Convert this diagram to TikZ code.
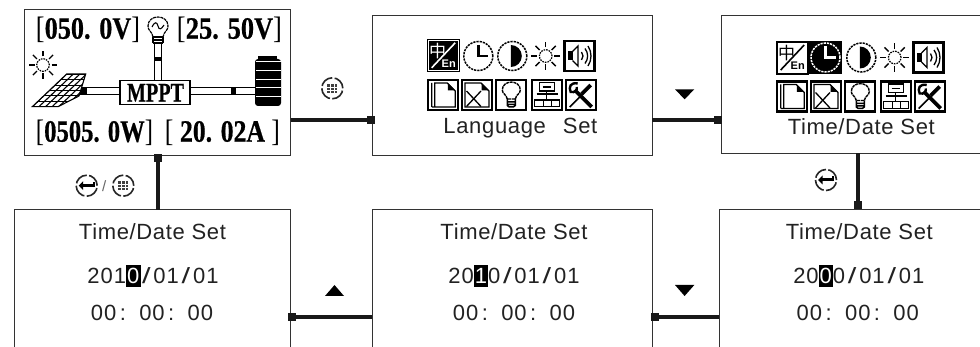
\documentclass[tikz,border=0pt]{standalone}
\usepackage{fontspec}
\usepackage{graphicx}
\usetikzlibrary{calc}
\setmainfont[LetterSpace=3]{Liberation Sans}
\newfontfamily\lcdf[BoldFeatures={FakeBold=.7}]{Liberation Serif}
\newfontfamily\cjkf{Noto Sans CJK SC}
\newfontfamily\plainf{Liberation Sans}
\definecolor{ink}{HTML}{222222}
\definecolor{edge}{HTML}{333333}
\newcommand{\lcdtxt}[4]{\resizebox{#1}{\height}{\lcdf\fontsize{31pt}{34pt}\selectfont\mdseries #2\bfseries #3\mdseries #4}}
\newcommand{\dg}[1]{\makebox[13.2pt]{#1}}
\newcommand{\sll}{\makebox[13.2pt]{\scalebox{1.4}[1]{/}}}
\newcommand{\hl}[1]{\makebox[13.2pt]{\makebox[0pt]{\color{black}\rule[-3.5pt]{14.6pt}{22pt}}\makebox[0pt]{\color{white}#1}}}
\newcommand{\clocktxt}{\dg{0}\dg{0}\makebox[22pt][l]{\hspace{3pt}:}\dg{0}\dg{0}\makebox[22pt][l]{\hspace{3pt}:}\dg{0}\dg{0}}
\tikzset{
  box/.style={draw=edge,line width=.9pt,inner sep=0pt,outer sep=0pt},
  openbox/.style={inner sep=0pt,outer sep=0pt},
  edgeline/.style={draw=edge,line width=.9pt},
  termsq/.style={fill=black!90,inner sep=0pt,outer sep=0pt,minimum size=8pt},
  conn/.style={draw=black!90,line width=3.6pt},
  lcdlabel/.style={font=\fontsize{22pt}{26pt}\selectfont,text=ink,inner sep=0pt,text height=16pt,text depth=0pt},
  shown/.style={inner sep=0pt,text=black},
  wire/.style={draw=black,line width=1.3pt,double=white,double distance=6pt},
  frame/.style={draw=black,line width=2.2pt},
  ring/.style={draw=black,line width=1.5pt,dash pattern=on 2.2pt off 1pt},
  thinl/.style={draw=black,line width=1.3pt},
  keyring/.style={draw=black!85,line width=1.6pt,dash pattern=on 14pt off 2.4pt},
}
\newcommand{\sunicon}{%
  \foreach \a in {0,45,...,315}{\draw[line width=1.4pt] (\a:8.5pt) -- (\a:14.3pt);}
  \draw[line width=1.2pt,dash pattern=on 1.6pt off 1pt] (0,0) circle[radius=6.3pt];}
\newcommand{\clockring}[2]{%
  \draw[ring,draw=#1] (0,0) circle[radius=14.5pt];
  \draw[draw=#2,line width=2.8pt] (0,-11) -- (0,0) -- (10,0);}
\newcommand{\contrasticon}{%
  \draw[ring] (0,0) circle[radius=14.5pt];
  \fill[black] (-1.5,-11) arc[start angle=90,end angle=-90,radius=11pt] -- cycle;}
\newcommand{\langicon}[3]{%
  \fill[#1] (0,0) rectangle (33,33);
  \draw[draw=#3,line width=1.1pt] (0.5,0.5) rectangle (32.5,32.5);
  \draw[draw=#2,line width=1.6pt] (5,28.5) -- (28.5,3.5);
  \node[shown,text=#2,font=\cjkf\fontsize{17pt}{17pt}\selectfont] (zh) at (11,12) {中};
  \node[shown,text=#2,font=\plainf\bfseries\fontsize{11pt}{11pt}\selectfont] (en) at (22,24.5) {En};}
\newcommand{\speakericon}{%
  \draw[frame] (1,1) rectangle (31,31);
  \fill (4.5,11.5) rectangle (9,20.5);
  \draw[thinl] (9,11.5) -- (14.5,6) -- (14.5,26) -- (9,20.5);
  \draw[thinl] (18,12) .. controls (20,14.5) and (20,17.5) .. (18,20);
  \draw[thinl] (21.5,8.5) .. controls (25,13) and (25,19) .. (21.5,23.5);
  \draw[thinl] (24.5,6) .. controls (28.5,12) and (28.5,20) .. (24.5,26);}
\newcommand{\docicon}{%
  \draw[frame] (1,1) rectangle (31,31);
  \draw[line width=1.3pt] (4.5,28) -- (4.5,4) (7.5,28) -- (7.5,4) -- (20,4) -- (28,12) -- (28,28) -- (4.5,28);
  \fill (20.5,4) -- (28,11.5) -- (20.5,11.5) -- cycle;}
\newcommand{\docxicon}{%
  \draw[frame] (1,1) rectangle (31,31);
  \draw[line width=1.3pt] (4,28) -- (4,4) -- (20,4) -- (28,12) -- (28,28) -- cycle;
  \fill (20.5,4) -- (28,11.5) -- (20.5,11.5) -- cycle;
  \draw[line width=1.3pt] (5.5,12) -- (20,27.5) (5.5,27.5) -- (20,12);}
\newcommand{\bulbicon}{%
  \draw[frame] (1,1) rectangle (31,31);
  \draw[line width=1.4pt,dash pattern=on 3pt off .7pt] (12,20) .. controls (11,15) and (7,15) .. (7,11) .. controls (7,0.5) and (25,0.5) .. (25,11) .. controls (25,15) and (21,15) .. (20,20) -- (12,20);
  \draw[line width=1.5pt] (12,20) -- (12,26.5) -- (14,28) -- (18,28) -- (20,26.5) -- (20,20) (12,23) -- (20,23) (12,25.5) -- (20,25.5);}
\newcommand{\neticon}{%
  \draw[frame] (1,1) rectangle (31,31);
  \draw[line width=1.4pt] (8.7,3.7) rectangle (24,12) (12,8) -- (20.5,8) (16,12) -- (16,21);
  \draw[line width=1.8pt] (6,15.3) -- (27,15.3);
  \draw[line width=1.3pt] (8,21) -- (25,21);
  \draw[line width=1.3pt] (3.7,21) rectangle (12.7,27.7) (12.7,21) rectangle (21,27.7) (21,21) rectangle (29,27.7);}
\newcommand{\toolicon}{%
  \draw[frame] (1,1) rectangle (31,31);
  \draw[line width=3.8pt] (10,11) -- (27,28);
  \draw[line width=1.6pt] (5,28) -- (18,15);
  \draw[line width=3.8pt] (17,15) -- (26,6);
  \draw[line width=2.4pt] (13,4.5) .. controls (6,3) and (3.5,8) .. (6,13) .. controls (10,14) and (13,11) .. (12,8);}
\newcommand{\iconset}[1]{%
  \ifnum#1=0
    \begin{scope}[shift={(426.7,39.3)}]\langicon{black}{white}{black}\draw[white,line width=.9pt] (1.5,1.5) rectangle (31.5,31.5);\end{scope}
    \begin{scope}[shift={(478.3,56)}]\clockring{black}{black}\end{scope}
  \else
    \begin{scope}[shift={(426.7,40)}]\langicon{white}{black}{black}\draw[black,line width=1.8pt] (1,1) rectangle (32,32);\end{scope}
    \fill[black] (459.5,39.5) rectangle (493,73);
    \begin{scope}[shift={(476.5,56)}]\fill[black] (0,0) circle[radius=14pt];\clockring{white}{white}\end{scope}
  \fi
  \begin{scope}[shift={(512.3,56)}]\contrasticon\end{scope}
  \begin{scope}[shift={(545.7,56)}]\sunicon\end{scope}
  \begin{scope}[shift={(563.5,40)}]\speakericon\end{scope}
  \begin{scope}[shift={(427.3,79)}]\docicon\end{scope}
  \begin{scope}[shift={(461,79)}]\docxicon\end{scope}
  \begin{scope}[shift={(495.3,79)}]\bulbicon\end{scope}
  \begin{scope}[shift={(530.7,79)}]\neticon\end{scope}
  \begin{scope}[shift={(564.7,79)}]\toolicon\end{scope}}
\newcommand{\enterkey}{%
  \draw[keyring] (0,0) circle[radius=10.5pt];
  \draw[black,line width=3pt] (-4,0) -- (7,0);
  \draw[black,line width=2.4pt] (7,1.5) -- (7,-4);
  \fill[black] (-8,0) -- (-3.5,-4.5) -- (-3.5,4.5) -- cycle;}
\newcommand{\menukey}{%
  \draw[keyring] (0,0) circle[radius=10.5pt];
  \fill[black!75] (-5,-4.5) rectangle (5,4.5);
  \draw[white,line width=.3pt] (-1.7,-4.5) -- (-1.7,4.5) (1.7,-4.5) -- (1.7,4.5) (-5,-1.5) -- (5,-1.5) (-5,1.5) -- (5,1.5);}
\begin{document}
\begin{tikzpicture}[x=1pt,y=-1pt]
\useasboundingbox (0,0) rectangle (980,347);
\fill[white] (0,0) rectangle (980,347);
% screens
\node[box,minimum width=266pt,minimum height=146pt] (b1) at (157.5,82) {};
\node[box,minimum width=280pt,minimum height=139.7pt] (b2) at (512.3,85.2) {};
\node[openbox,minimum width=259pt,minimum height=138pt] (b3) at (850.5,84.5) {};
\node[openbox,minimum width=276.5pt,minimum height=137.3pt] (b4) at (152.25,278.35) {};
\node[openbox,minimum width=280pt,minimum height=137.3pt] (b5) at (512.3,278.35) {};
\node[openbox,minimum width=260.7pt,minimum height=137.3pt] (b6) at (849.65,278.35) {};
\draw[edgeline] (b3.north east) -- (b3.north west) -- (b3.south west) -- (b3.south east);
\draw[edgeline] (b4.south west) -- (b4.north west) -- (b4.north east) -- (b4.south east);
\draw[edgeline] (b5.south west) -- (b5.north west) -- (b5.north east) -- (b5.south east);
\draw[edgeline] (b6.north east) -- (b6.north west) -- (b6.south west);
% connectors
\node[termsq] (s12) at (370.7,120) {};
\node[termsq] (s23) at (718,120) {};
\node[termsq] (s36) at (858,205.5) {};
\node[termsq] (s65) at (655,317) {};
\node[termsq] (s54) at (292,317) {};
\node[termsq] (s41) at (158,158) {};
\draw[conn] (b1.east |- s12) -- (s12);
\draw[conn] (b2.east |- s23) -- (s23);
\draw[conn] (s36 |- b3.south) -- (s36);
\draw[conn] (b6.west |- s65) -- (s65);
\draw[conn] (b5.west |- s54) -- (s54);
\draw[conn] (s41 |- b4.north) -- (s41);
% status screen
\node[shown] (v1) at (88,30) {\lcdtxt{104pt}{[}{050. 0V}{]}};
\node[shown] (v2) at (229.5,30) {\lcdtxt{105pt}{[}{25. 50V}{]}};
\node[shown] (p1) at (94.5,133) {\lcdtxt{117pt}{[}{0505. 0W}{]}};
\node[shown] (c1) at (222.5,133) {\lcdtxt{115pt}{[ }{20. 02A}{ ]}};
\node[fill=black,rounded corners=3pt,inner sep=0pt,outer sep=0pt,minimum width=26pt,minimum height=47pt] (batt) at (268,82.5) {};
\fill[black] (258,56) rectangle (277,60);
\foreach \yy in {61.5,70,79,87.5,96}{\draw[white,line width=.8pt] (255.5,\yy) -- (280.5,\yy);}
\coordinate (pv) at (80,91.2);
\coordinate (lamp) at (158,43);
\draw[wire] (pv) -- (batt.west |- pv);
\draw[wire] (lamp) -- (lamp |- pv);
\node[box,draw=black,line width=1.5pt,fill=white,minimum width=70pt,minimum height=24pt] (mppt) at (155,92.7) {};
\node[shown] (mt) at (155.5,92.7) {\resizebox{57pt}{\height}{\lcdf\bfseries\fontsize{27pt}{27pt}\selectfont MPPT}};
\fill[black] (77,87.5) rectangle (86.7,95);
\fill[black] (231,87.5) rectangle (236,95);
\fill[black] (154,56.7) rectangle (162,61.5);
% bulb of the status screen
\draw[line width=1.2pt,dash pattern=on 3pt off .7pt] (153,37) .. controls (152,31) and (148,31) .. (148,26) .. controls (148,14) and (168,14) .. (168,26) .. controls (168,31) and (164,31) .. (163,37);
\draw[line width=1.2pt] (153,37) -- (163,37) (153,40) -- (163,40) (153,43) -- (163,43) (153,37) -- (153,43) (163,37) -- (163,43);
\draw[line width=1.1pt] (152,27) .. controls (155,21) and (157,22) .. (158,26) .. controls (159,30) and (161,30) .. (164,25);
% sun and solar panel
\begin{scope}[shift={(43,65)}]\sunicon\end{scope}
\begin{scope}
  \fill[white] (66.7,74) -- (85.7,74) -- (79,96) -- (58,106.7) -- (32.3,106.7) -- cycle;
  \clip (66.7,74) -- (85.7,74) -- (79,96) -- (58,106.7) -- (32.3,106.7) -- cycle;
  \foreach \k in {0,...,6}{\draw[line width=1.1pt] (30,74.3+5.4*\k) -- (90,74.3+5.4*\k);}
  \foreach \k in {0,...,7}{\draw[line width=1.1pt] (66.7+6.6*\k,74) -- (32.3+6.6*\k,106.7);}
\end{scope}
\draw[line width=1.1pt] (66.7,74) -- (85.7,74) -- (79,96) -- (58,106.7) -- (32.3,106.7) -- cycle;
% menu screens
\iconset{0}
\begin{scope}[shift={(349,1.5)}]\iconset{1}\end{scope}
\node[lcdlabel] (l2) at (520.4,126) {Language\hspace{17pt}Set};
\node[lcdlabel] (l3) at (861.3,127) {Time/Date Set};
% date screens
\node[lcdlabel] (t4) at (152.5,231.7) {Time/Date Set};
\node[lcdlabel] (d4) at (153,276) {\dg{2}\dg{0}\dg{1}\hl{0}\sll\dg{0}\dg{1}\sll\dg{0}\dg{1}};
\node[lcdlabel] (h4) at (152,313) {\clocktxt};
\node[lcdlabel] (t5) at (514,231.7) {Time/Date Set};
\node[lcdlabel] (d5) at (514,276) {\dg{2}\dg{0}\hl{1}\dg{0}\sll\dg{0}\dg{1}\sll\dg{0}\dg{1}};
\node[lcdlabel] (h5) at (514,313) {\clocktxt};
\node[lcdlabel] (t6) at (859.3,231.7) {Time/Date Set};
\node[lcdlabel] (d6) at (858.8,276) {\dg{2}\dg{0}\hl{0}\dg{0}\sll\dg{0}\dg{1}\sll\dg{0}\dg{1}};
\node[lcdlabel] (h6) at (857.8,313) {\clocktxt};
% key symbols
\begin{scope}[shift={(86.7,185.7)}]\enterkey\end{scope}
\node[shown,text=black!60,font=\plainf\fontsize{15pt}{15pt}\selectfont] (sl) at (104.3,186) {/};
\begin{scope}[shift={(123.3,185.7)}]\menukey\end{scope}
\begin{scope}[shift={(332.3,88.3)}]\menukey\end{scope}
\begin{scope}[shift={(826,180)}]\enterkey\end{scope}
% arrow keys
\fill[black] (675,89.3) -- (694.3,89.3) -- (684.6,99.3) -- cycle;
\fill[black] (675,285) -- (694.3,285) -- (684.6,296) -- cycle;
\fill[black] (325,296) -- (344,296) -- (334.5,285) -- cycle;
\end{tikzpicture}
\end{document}
